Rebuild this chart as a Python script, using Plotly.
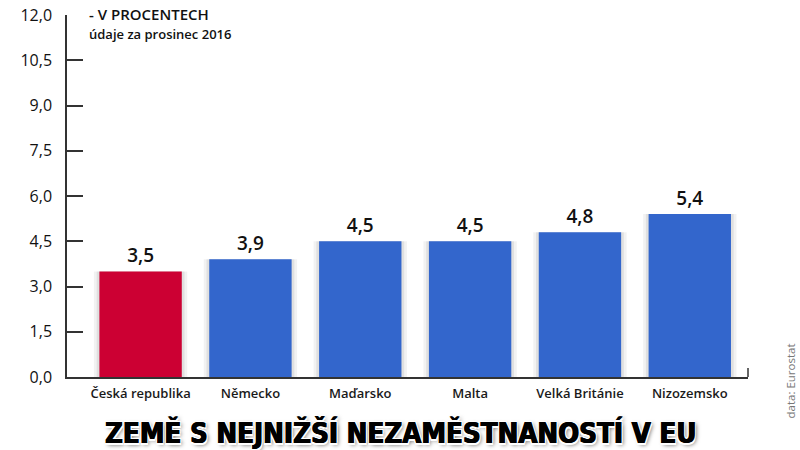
import plotly.graph_objects as go

# data
countries = ['Česká republika', 'Německo', 'Maďarsko', 'Malta', 'Velká Británie', 'Nizozemsko']
unemployment = [3.5, 3.9, 4.5, 4.5, 4.8, 5.4]
bar_colors = ['#cc0033', '#3366cc', '#3366cc', '#3366cc', '#3366cc', '#3366cc']
y_ticks = [0, 1.5, 3.0, 4.5, 6.0, 7.5, 9.0, 10.5, 12.0]

FONT = 'Open Sans'

fig = go.Figure()

# soft shadow behind bars
fig.add_trace(go.Bar(x=countries, y=unemployment, width=0.85,
                     marker_color='rgba(0,0,0,0.05)', marker_line_width=0,
                     hoverinfo='skip', showlegend=False))
fig.add_trace(go.Bar(x=countries, y=unemployment, width=0.8,
                     marker_color='rgba(0,0,0,0.07)', marker_line_width=0,
                     hoverinfo='skip', showlegend=False))

fig.add_trace(go.Bar(
    x=countries, y=unemployment, width=0.75,
    marker_color=bar_colors, marker_line_width=0,
    texttemplate='%{y:.1f}', textposition='outside', cliponaxis=False,
    textfont=dict(family=FONT, size=19, color='#111', weight=600),
    showlegend=False,
))

fig.update_layout(
    width=800, height=450,
    margin=dict(l=67, r=52, t=15, b=73),
    paper_bgcolor='white', plot_bgcolor='white',
    barmode='overlay',
    separators=',.',
    font=dict(family=FONT, color='#222'),
)

fig.update_xaxes(
    range=[-0.67, 5.53], automargin=False,
    showline=True, linecolor='#333', linewidth=1.5,
    showgrid=False, ticks='',
    tickfont=dict(family=FONT, size=13, color='#1a1a1a', weight=600),
    ticklabelstandoff=4,
)
fig.update_yaxes(
    range=[0, 12], tickvals=y_ticks, tickformat='.1f', automargin=False,
    showline=True, linecolor='#333', linewidth=1.5,
    showgrid=False, zeroline=False,
    ticks='inside', ticklen=16, tickwidth=1.5, tickcolor='#333',
    tickfont=dict(family=FONT, size=16, color='#111'),
    ticklabelstandoff=10,
)

# small closing tick at right end of x axis
fig.add_shape(type='line', xref='paper', yref='paper', x0=1, x1=1, y0=0, y1=0.025,
              line=dict(color='#333', width=1.5))

fig.add_annotation(text='- V PROCENTECH', xref='paper', yref='paper',
                   x=0.029, y=1.003, xanchor='left', yanchor='middle', showarrow=False,
                   font=dict(family=FONT, size=15, color='#111', weight=600))
fig.add_annotation(text='údaje za prosinec 2016', xref='paper', yref='paper',
                   x=0.029, y=0.947, xanchor='left', yanchor='middle', showarrow=False,
                   font=dict(family=FONT, size=13, color='#111', weight=600))

fig.add_annotation(text='ZEMĚ S NEJNIŽŠÍ NEZAMĚSTNANOSTÍ V EU', xref='paper', yref='paper',
                   x=0.489, y=-0.152, xanchor='center', yanchor='middle', showarrow=False,
                   font=dict(family='DejaVu Sans Condensed', size=27.5, color='#000', weight='bold',
                             shadow='0.6px 0 0 #000, -0.6px 0 0 #000, '
                                    '-1.5px -1.5px 0 #fff, 1.5px -1.5px 0 #fff, '
                                    '-1.5px 1.5px 0 #fff, 1.5px 1.5px 0 #fff, 2px 2px 4px #666'))

fig.add_annotation(text='data: Eurostat', xref='paper', yref='paper',
                   x=1.063, y=-0.01, xanchor='center', yanchor='middle', textangle=-90,
                   showarrow=False, font=dict(family=FONT, size=11.5, color='#777'))

fig.write_html('out.html', config={'displayModeBar': False},
               post_script="document.body.style.margin='0';")
